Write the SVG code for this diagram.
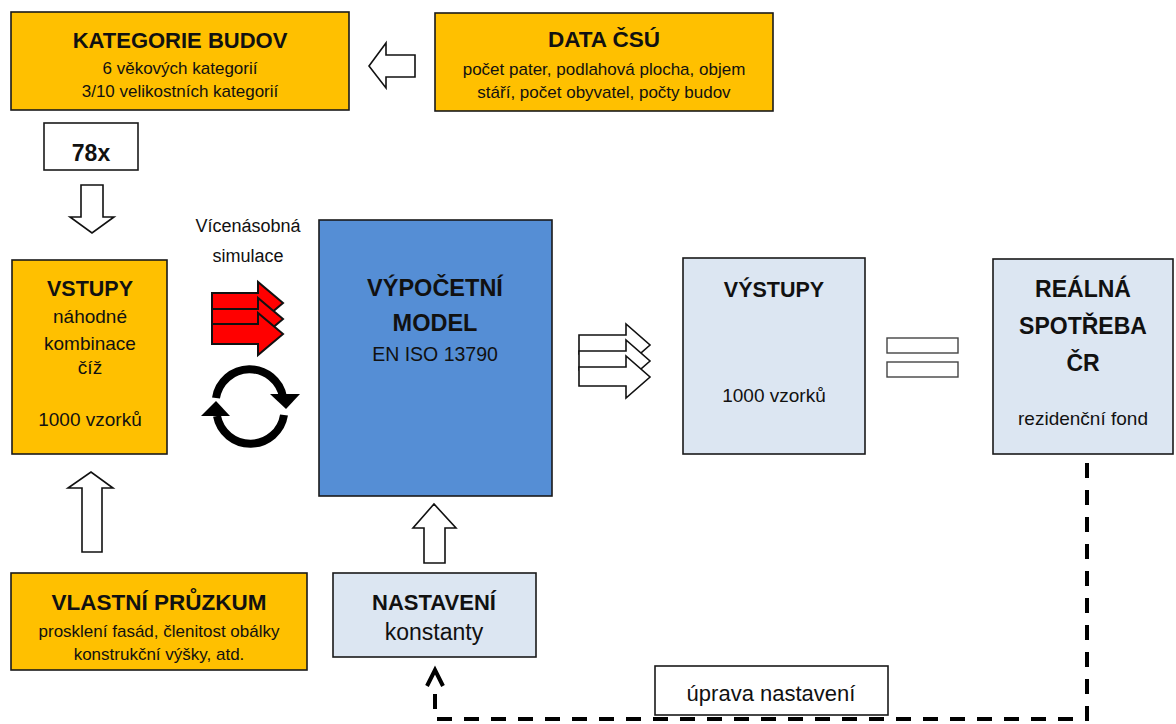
<svg xmlns="http://www.w3.org/2000/svg" width="1176" height="724" viewBox="0 0 1176 724">
  <style>
    text { font-family: "Liberation Sans", Arial, sans-serif; fill: #111; text-anchor: middle; }
    .box { stroke: #1a1a1a; stroke-width: 1.6; }
    .orange { fill: #FFC000; }
    .blue { fill: #558ED5; }
    .pale { fill: #DCE6F2; }
    .white { fill: #ffffff; }
    .t { font-weight: bold; }
    .hollow { fill: #ffffff; stroke: #111; stroke-width: 1.6; stroke-linejoin: miter; }
    .red { fill: #FF0000; stroke: #111; stroke-width: 2; stroke-linejoin: miter; }
    .dash { fill: none; stroke: #000; stroke-width: 4; stroke-dasharray: 15 12; }
  </style>
  <defs>
    <!-- block arrow pointing right, origin at shaft top-left -->
    <path id="blockRight" d="M0,0 H46 V-11 L71,10 L46,31 V20 H0 Z"/>
  </defs>

  <!-- nodes -->
  <g id="kategorie-budov">
    <rect class="box orange" x="11" y="12" width="338" height="98"/>
    <text class="t" x="180" y="48" font-size="22">KATEGORIE BUDOV</text>
    <text x="180" y="74" font-size="17">6 věkových kategorií</text>
    <text x="180" y="97" font-size="17">3/10 velikostních kategorií</text>
  </g>

  <g id="data-csu">
    <rect class="box orange" x="435" y="13" width="338" height="98"/>
    <text class="t" x="604" y="47" font-size="22.5">DATA ČSÚ</text>
    <text x="604" y="75" font-size="17">počet pater, podlahová plocha, objem</text>
    <text x="604" y="98" font-size="17">stáří, počet obyvatel, počty budov</text>
  </g>

  <g id="pocet-78x">
    <rect class="box white" x="44" y="123" width="94" height="47"/>
    <text class="t" x="91" y="161" font-size="23">78x</text>
  </g>

  <g id="vstupy">
    <rect class="box orange" x="12" y="260" width="155" height="194"/>
    <text class="t" x="90" y="296" font-size="21.5">VSTUPY</text>
    <text x="90" y="323" font-size="19">náhodné</text>
    <text x="90" y="350" font-size="19">kombinace</text>
    <text x="90" y="374" font-size="19">číž</text>
    <text x="90" y="426" font-size="19">1000 vzorků</text>
  </g>

  <g id="vlastni-pruzkum">
    <rect class="box orange" x="11" y="573" width="296" height="97"/>
    <text class="t" x="159" y="610" font-size="22.5">VLASTNÍ PRŮZKUM</text>
    <text x="159" y="637" font-size="17">prosklení fasád, členitost obálky</text>
    <text x="159" y="660" font-size="17">konstrukční výšky, atd.</text>
  </g>

  <g id="simulace">
    <text x="248" y="232" font-size="18">Vícenásobná</text>
    <text x="248" y="262" font-size="18">simulace</text>
    <!-- three stacked red block arrows -->
    <use href="#blockRight" class="red" x="212" y="293"/>
    <use href="#blockRight" class="red" x="212" y="309"/>
    <use href="#blockRight" class="red" x="212" y="324"/>
    <!-- cycle icon -->
    <path d="M216,398 A34,34 0 0 1 283,397" fill="none" stroke="#000" stroke-width="8"/>
    <path d="M284,415 A34,34 0 0 1 217,416" fill="none" stroke="#000" stroke-width="8"/>
    <path d="M270,394 L300,394 L286,409 Z" fill="#000"/>
    <path d="M201,416 L230,416 L216,401 Z" fill="#000"/>
  </g>

  <g id="vypocetni-model">
    <rect class="box blue" x="319" y="220" width="233" height="276"/>
    <text class="t" x="435" y="296" font-size="23.5">VÝPOČETNÍ</text>
    <text class="t" x="435" y="331" font-size="23.5">MODEL</text>
    <text x="435" y="361" font-size="19.5">EN ISO 13790</text>
  </g>

  <g id="nastaveni">
    <rect class="box pale" x="333" y="573" width="203" height="84"/>
    <text class="t" x="434" y="610" font-size="22">NASTAVENÍ</text>
    <text x="434" y="640" font-size="23">konstanty</text>
  </g>

  <g id="vystupy">
    <rect class="box pale" x="683" y="258" width="182" height="196"/>
    <text class="t" x="774" y="297" font-size="21.5">VÝSTUPY</text>
    <text x="774" y="402" font-size="19">1000 vzorků</text>
  </g>

  <g id="realna-spotreba">
    <rect class="box pale" x="993" y="259" width="180" height="195"/>
    <text class="t" x="1083" y="297" font-size="23">REÁLNÁ</text>
    <text class="t" x="1083" y="334" font-size="23">SPOTŘEBA</text>
    <text class="t" x="1083" y="371" font-size="23">ČR</text>
    <text x="1083" y="425" font-size="19">rezidenční fond</text>
  </g>

  <g id="rovnost">
    <rect x="887" y="338" width="71" height="15" fill="#fff" stroke="#444" stroke-width="1.4"/>
    <rect x="887" y="362" width="71" height="15" fill="#fff" stroke="#444" stroke-width="1.4"/>
  </g>

  <g id="uprava-nastaveni">
    <rect class="box white" x="655" y="666" width="233" height="49"/>
    <text x="771" y="701" font-size="22">úprava nastavení</text>
  </g>

  <!-- connectors -->
  <g id="connectors">
    <!-- DATA ČSÚ to KATEGORIE BUDOV -->
    <path class="hollow" d="M415,55 H386 V43 L369,66 L386,88 V77 H415 Z"/>
    <!-- 78x down to VSTUPY -->
    <path class="hollow" d="M81,185 H103 V217 H114 L92,233 L70,217 H81 Z"/>
    <!-- VLASTNÍ PRŮZKUM up to VSTUPY -->
    <path class="hollow" d="M82,552 H102 V488 H113 L91,472 L68,488 H82 Z"/>
    <!-- NASTAVENÍ up to model -->
    <path class="hollow" d="M424,563 H445 V528 H456 L434,504 L413,528 H424 Z"/>
    <!-- model to VÝSTUPY: three stacked white block arrows -->
    <path class="hollow" d="M579,335 H626 V324 L650,345 L626,366 V354 H579 Z"/>
    <path class="hollow" d="M579,351 H626 V340 L650,361 L626,382 V370 H579 Z"/>
    <path class="hollow" d="M579,367 H626 V356 L650,377 L626,398 V386 H579 Z"/>
    <!-- feedback loop from real consumption back to settings -->
    <path class="dash" d="M1087,463 V719 H435 V684"/>
    <path d="M427,686 L435,670 L443,686" fill="none" stroke="#000" stroke-width="4"/>
  </g>
</svg>
